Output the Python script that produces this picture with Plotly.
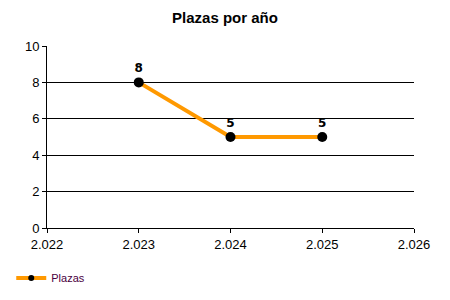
import plotly.graph_objects as go

years = [2023, 2024, 2025]
plazas = [8, 5, 5]
x_tickvals = [2022, 2023, 2024, 2025, 2026]
x_ticktext = ["2.022", "2.023", "2.024", "2.025", "2.026"]
y_tickvals = [0, 2, 4, 6, 8, 10]

fig = go.Figure()
fig.add_trace(go.Scatter(
    x=years, y=plazas, name="Plazas", showlegend=False,
    mode="lines+markers+text",
    text=[str(v) for v in plazas],
    textposition="top center",
    textfont=dict(family="DejaVu Sans", size=12, color="black", weight="bold"),
    line=dict(color="#FF9900", width=4),
    marker=dict(color="black", size=10),
    cliponaxis=False,
))
# legend-only entry with a smaller marker, as in the reference
fig.add_trace(go.Scatter(
    x=[None], y=[None], name="Plazas", mode="lines+markers",
    line=dict(color="#FF9900", width=4),
    marker=dict(color="black", size=6),
))

fig.update_layout(
    width=450, height=300,
    margin=dict(l=47, r=36, t=46, b=72),
    paper_bgcolor="white", plot_bgcolor="white",
    title=dict(text="<b>Plazas por año</b>", x=0.5, xanchor="center", y=1 - 18/300, yanchor="middle",
               font=dict(family="Liberation Sans", size=15, color="black")),
    font=dict(family="Liberation Sans", size=13, color="black"),
    showlegend=True,
    legend=dict(xref="container", yref="container", x=0.025, y=0.073, xanchor="left", yanchor="middle",
                orientation="h", font=dict(size=11, color="#4b0040"), bgcolor="rgba(0,0,0,0)"),
)
fig.update_xaxes(range=[2022, 2026], tickvals=x_tickvals, ticktext=x_ticktext,
                 showgrid=False, showline=True, linecolor="black", linewidth=1,
                 ticks="outside", ticklen=4, tickcolor="black", zeroline=False)
fig.update_yaxes(range=[0, 10], tickvals=y_tickvals,
                 showgrid=True, gridcolor="black", gridwidth=1,
                 showline=True, linecolor="black", linewidth=1,
                 ticks="outside", ticklen=4, tickcolor="black", zeroline=False)

fig.write_html("out.html")
